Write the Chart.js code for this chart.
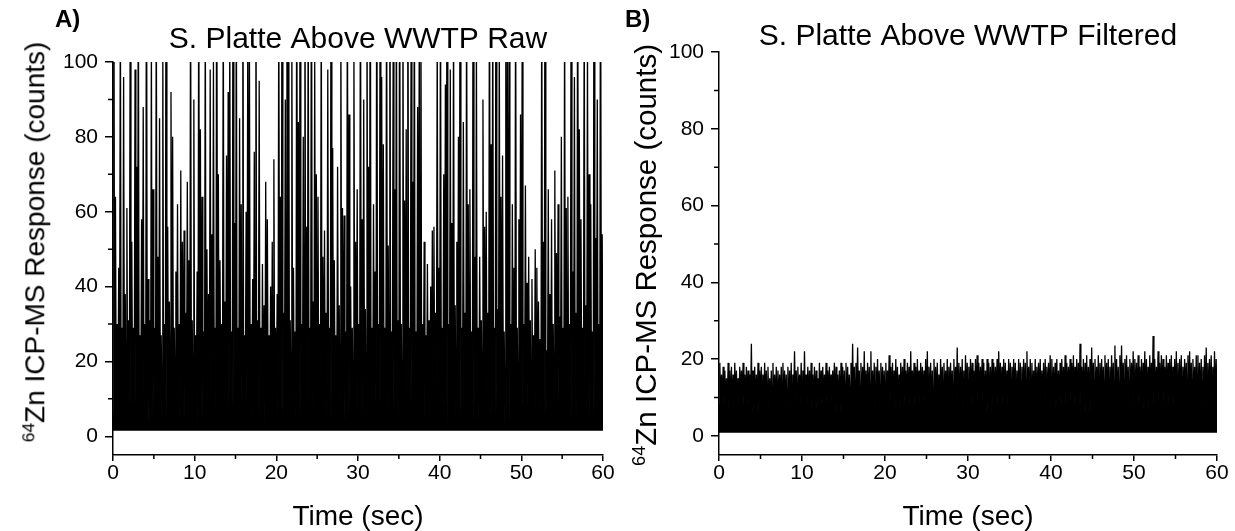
<!DOCTYPE html>
<html>
<head>
<meta charset="utf-8">
<script src="https://cdn.jsdelivr.net/npm/chart.js@4.4.0/dist/chart.umd.min.js"></script>
<style>
  body { margin: 0; background: #fff; width: 1235px; height: 531px; position: relative; overflow: hidden; }
  canvas { position: absolute; top: 0; }
  #chartA { left: 0; }
  #chartB { left: 617px; }
  .tag { position: absolute; top: 5px; font: bold 24px "Liberation Sans", Arial, sans-serif; color: #000; }
  .ytitle { position: absolute; white-space: nowrap; color: #000; line-height: 1;
            font-family: "Liberation Sans", Arial, sans-serif;
            transform: translate(-50%, -50%) rotate(-90deg); }
  .ytitle sup { font-size: 0.62em; vertical-align: 0.6em; }
</style>
</head>
<body>
<canvas id="chartA" width="617" height="531"></canvas>
<canvas id="chartB" width="618" height="531"></canvas>
<div class="tag" style="left:55px">A)</div>
<div class="tag" style="left:625px">B)</div>
<div class="ytitle" style="left:35px; top:242px; font-size:28px"><sup>64</sup>Zn ICP-MS Response (counts)</div>
<div class="ytitle" style="left:645px; top:255px; font-size:29.5px"><sup>64</sup>Zn ICP-MS Response (counts)</div>
<script>
// one reading every 0.2 s, values in counts
const dwell = 0.2;

// A) raw sample, 5 s per line (values over 100 are off scale)
const rawA = [
  140, 64, 30, 45, 120, 29, 96, 38, 61, 31, 110, 52, 29, 98, 72, 130, 27, 58, 88, 30, 150, 42, 31, 105, 66,
  29, 120, 48, 85, 27, 105, 30, 140, 56, 36, 92, 80, 29, 44, 62, 30, 71, 52, 55, 33, 68, 47, 125, 31, 90,
  27, 44, 130, 82, 64, 28, 115, 50, 38, 98, 54, 100, 29, 145, 70, 47, 30, 120, 36, 75, 92, 110, 28, 140, 57,
  125, 29, 85, 62, 140, 27, 60, 105, 110, 30, 42, 76, 130, 31, 95, 29, 46, 35, 68, 58, 27, 40, 52, 74, 29,
  38, 120, 64, 140, 33, 90, 112, 150, 31, 110, 45, 28, 135, 84, 115, 30, 80, 130, 56, 120, 29, 145, 36, 100, 70,
  64, 30, 120, 48, 55, 33, 98, 29, 130, 77, 47, 27, 72, 35, 115, 61, 59, 28, 125, 86, 40, 29, 105, 52, 66,
  30, 135, 58, 90, 34, 120, 72, 150, 29, 62, 44, 140, 30, 110, 96, 78, 29, 130, 51, 145, 28, 100, 66, 125, 31,
  140, 30, 120, 63, 82, 150, 29, 105, 68, 130, 28, 88, 110, 120, 30, 52, 27, 46, 31, 40, 55, 56, 33, 110, 45,
  125, 29, 70, 94, 140, 30, 98, 57, 115, 35, 52, 80, 135, 29, 84, 33, 120, 62, 66, 28, 145, 48, 105, 29, 48,
  31, 90, 56, 60, 33, 135, 78, 120, 29, 150, 34, 110, 64, 75, 28, 130, 102, 100, 30, 62, 45, 125, 29, 58, 86,
  105, 30, 67, 41, 48, 31, 42, 27, 50, 45, 36, 26, 120, 52, 140, 23, 66, 38, 58, 30, 71, 49, 62, 32, 80,
  29, 115, 61, 64, 30, 130, 44, 96, 33, 140, 82, 58, 29, 120, 35, 105, 70, 62, 28, 135, 53, 90, 30, 150, 54
];

// B) filtered sample
const filteredB = [
  19, 16, 18, 17, 15, 19, 17, 18, 16, 19, 17, 15, 18, 17, 19, 16, 18, 17, 16, 24, 17, 18, 16, 19, 17,
  18, 16, 19, 17, 18, 15, 17, 19, 16, 18, 17, 16, 18, 19, 17, 16, 18, 17, 19, 16, 22, 17, 18, 16, 19,
  17, 22, 16, 18, 17, 19, 16, 18, 17, 15, 19, 17, 18, 16, 19, 17, 18, 16, 17, 19, 18, 16, 17, 19, 18,
  17, 19, 18, 16, 19, 24, 18, 19, 23, 17, 19, 18, 22, 17, 19, 18, 22, 17, 19, 18, 20, 17, 19, 18, 17,
  19, 17, 21, 18, 19, 17, 20, 18, 16, 19, 18, 20, 17, 19, 18, 22, 17, 19, 18, 20, 17, 19, 18, 17, 20,
  22, 18, 19, 17, 20, 18, 19, 16, 20, 18, 19, 17, 20, 18, 19, 17, 20, 18, 23, 19, 18, 20, 17, 21, 19,
  18, 20, 19, 17, 20, 21, 19, 18, 20, 19, 17, 20, 19, 18, 20, 19, 18, 20, 22, 19, 18, 20, 19, 17, 20,
  19, 18, 20, 19, 17, 20, 19, 18, 20, 19, 22, 18, 20, 19, 17, 20, 18, 19, 20, 17, 19, 20, 18, 19, 21,
  20, 18, 19, 20, 17, 19, 20, 18, 21, 19, 18, 20, 19, 21, 18, 20, 19, 24, 18, 20, 19, 21, 18, 20, 23,
  19, 20, 18, 21, 19, 20, 18, 21, 19, 20, 18, 21, 19, 23.5, 20, 18, 21, 23.5, 19, 20, 21, 18, 20, 19, 22,
  20, 19, 21, 18, 20, 19, 22, 20, 18, 21, 19, 26, 20, 18, 22, 19, 21, 20, 18, 21, 19, 20, 21, 18, 20,
  22, 19, 20, 21, 18, 20, 19, 21, 22, 19, 20, 18, 21, 21, 19, 20, 18, 21, 23, 19, 20, 21, 18, 22, 20
];

// low readings between the peaks, one per second
const lowA = [6, 4, 8, 5, 3, 7, 5, 9, 4, 6, 3, 5, 8, 4, 7, 5, 9, 4, 3, 6,
  5, 8, 4, 5, 7, 3, 5, 8, 4, 6, 5, 4, 8, 3, 7, 5, 9, 4, 5, 6,
  8, 3, 5, 7, 4, 8, 5, 6, 3, 5, 8, 4, 6, 5, 9, 3, 5, 7, 4, 8];
const lowB = [8, 7, 9, 8, 6, 9, 7, 8, 6, 9, 8, 7, 8, 9, 6, 8, 9, 7, 6, 8,
  9, 7, 8, 8, 9, 6, 8, 9, 8, 7, 8, 9, 6, 8, 8, 9, 7, 8, 9, 8,
  7, 8, 9, 8, 6, 8, 9, 7, 8, 9, 8, 7, 8, 9, 8, 7, 9, 8, 6, 8];

// where the trace sits at rest
const baseA = 1.5;
const baseB = 0.8;

const fontFamily = '"Liberation Sans", Arial, sans-serif';

// readings alternate with the low level between them
function buildTrace(values, lows) {
    var pts = [];
    for (var i = 0; i < values.length; i++) {
        var t = i * dwell;
        pts.push({x: t, y: lows[Math.floor(t + 1e-9)]});
        pts.push({x: t + dwell / 2, y: values[i]});
    }
    pts.push({x: values.length * dwell, y: lows[lows.length - 1]});
    return pts;
}

// origin style minor ticks
const minorTicks = {
    id: 'minorTicks',
    afterDraw(chart) {
        var ctx = chart.ctx;
        var area = chart.chartArea;
        var xs = chart.scales.x, ys = chart.scales.y;
        ctx.save();
        ctx.strokeStyle = '#000';
        ctx.lineWidth = 1.5;
        ctx.beginPath();
        for (var v = 5; v < 60; v += 10) {
            var px = xs.getPixelForValue(v);
            ctx.moveTo(px, area.bottom);
            ctx.lineTo(px, area.bottom + 4);
        }
        for (var w = 10; w < 100; w += 20) {
            var py = ys.getPixelForValue(w);
            ctx.moveTo(area.left, py);
            ctx.lineTo(area.left - 5, py);
        }
        ctx.stroke();
        ctx.restore();
    }
};

function makeChart(el, values, lows, base, cfg) {
    return new Chart(document.getElementById(el), {
        type: 'line',
        data: {
            datasets: [{
                data: buildTrace(values, lows),
                borderColor: '#000',
                backgroundColor: '#000',
                borderWidth: 1.3,
                fill: { value: base },
                pointRadius: 0,
                tension: 0
            }]
        },
        options: {
            responsive: false,
            animation: false,
            events: [],
            parsing: false,
            layout: { padding: { left: 0, right: cfg.padRight, top: 0, bottom: 0 } },
            plugins: {
                legend: { display: false },
                tooltip: { enabled: false },
                title: {
                    display: true,
                    text: cfg.title,
                    fullSize: false,
                    color: '#000',
                    font: { family: fontFamily, size: 30, weight: 'normal', lineHeight: 1 },
                    padding: cfg.titlePad
                }
            },
            scales: {
                x: {
                    type: 'linear',
                    min: 0,
                    max: 60,
                    afterFit: function(s) { s.height = 76; },
                    border: { display: true, color: '#000', width: 1.5 },
                    grid: { drawOnChartArea: false, tickLength: 6, color: '#000', lineWidth: 1.5 },
                    ticks: { stepSize: 10, maxRotation: 0, color: '#000', padding: 0,
                             font: { family: fontFamily, size: 21 } },
                    title: { display: true, text: 'Time (sec)', color: '#000',
                             font: { family: fontFamily, size: 28, lineHeight: 1 },
                             padding: { top: 0, bottom: 0 } }
                },
                y: {
                    type: 'linear',
                    min: -5,
                    max: 100,
                    afterFit: function(s) { s.width = cfg.yWidth; },
                    border: { display: true, color: '#000', width: 1.5 },
                    grid: { drawOnChartArea: false, tickLength: 8, color: '#000', lineWidth: 1.5 },
                    ticks: { stepSize: 20, includeBounds: false, color: '#000', padding: 7,
                             font: { family: fontFamily, size: 21 } }
                }
            }
        },
        plugins: [minorTicks]
    });
}

document.addEventListener("DOMContentLoaded", function() {
    makeChart('chartA', rawA, lowA, baseA, {
        title: 'S. Platte Above WWTP Raw',
        titlePad: { top: 25, bottom: 7 },
        padRight: 14,
        yWidth: 113
    });
    makeChart('chartB', filteredB, lowB, baseB, {
        title: 'S. Platte Above WWTP Filtered',
        titlePad: { top: 22, bottom: 0 },
        padRight: 18,
        yWidth: 102
    });
});
</script>
</body>
</html>
